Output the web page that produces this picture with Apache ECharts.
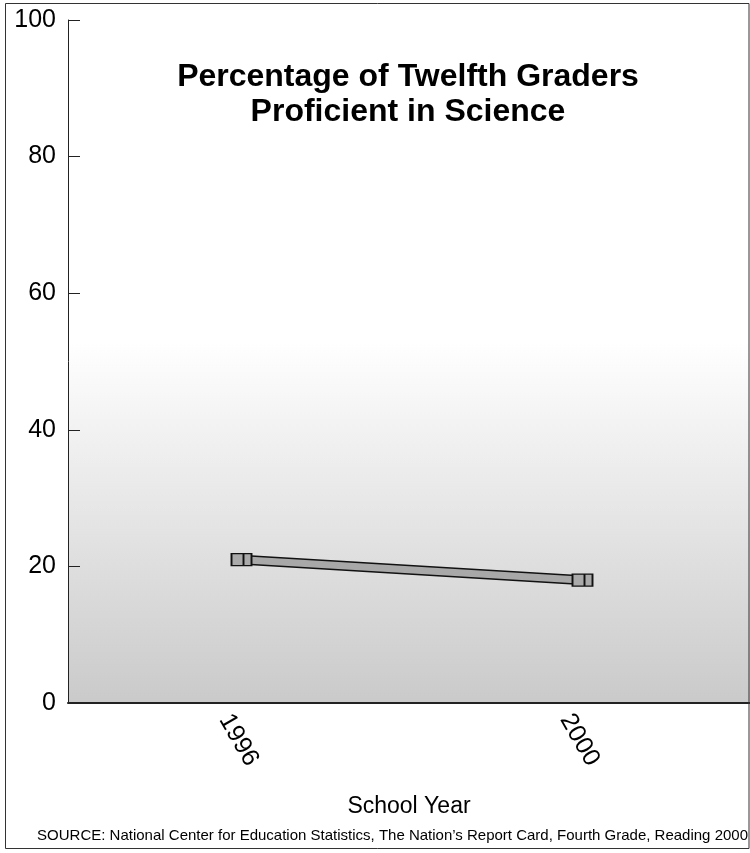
<!DOCTYPE html>
<html>
<head>
<meta charset="utf-8">
<script src="https://cdn.jsdelivr.net/npm/echarts@6/dist/echarts.min.js"></script>
<style>
  html, body { margin: 0; padding: 0; background: #fff; }
  #chart { width: 750px; height: 853px; }
</style>
</head>
<body>
<div id="chart"></div>
<script>
// School years on the horizontal axis
const years = ['1996', '2000'];
// Percent of twelfth graders at or above Proficient
const proficient = [21, 18];
// Vertical axis range
const yMin = 0, yMax = 100, yStep = 20;

const chart = echarts.init(document.getElementById('chart'));
const font = 'Liberation Sans, Arial, sans-serif';

chart.setOption({
  animation: false,
  backgroundColor: '#fff',
  grid: {
    left: 68, right: 0, top: 20, bottom: 150,
    show: true,
    borderWidth: 0,
    backgroundColor: {
      type: 'linear', x: 0, y: 0, x2: 0, y2: 1,
      colorStops: [
        { offset: 0, color: '#ffffff' },
        { offset: 0.47, color: '#ffffff' },
        { offset: 1, color: '#cacaca' }
      ]
    }
  },
  title: {
    text: 'Percentage of Twelfth Graders\nProficient in Science',
    left: 403, top: 55, textAlign: 'center',
    textStyle: { fontFamily: font, fontSize: 32, fontWeight: 'bold', color: '#000', lineHeight: 35 }
  },
  xAxis: {
    type: 'category',
    data: years,
    boundaryGap: true,
    name: 'School Year',
    nameLocation: 'middle',
    nameGap: 92,
    nameTextStyle: { fontFamily: font, fontSize: 23, color: '#000' },
    axisLine: { lineStyle: { color: '#222', width: 2 } },
    axisTick: { show: false },
    axisLabel: {
      rotate: -60, align: 'center', verticalAlign: 'middle',
      fontFamily: font, fontSize: 25, color: '#000', margin: 37
    }
  },
  yAxis: {
    type: 'value',
    min: yMin, max: yMax, interval: yStep,
    axisLine: { show: true, lineStyle: { color: '#222', width: 1 } },
    axisTick: { show: true, inside: true, length: 12, lineStyle: { color: '#222' } },
    splitLine: { show: false },
    axisLabel: { fontFamily: font, fontSize: 25, color: '#000', margin: 12 }
  },
  series: [
    {
      // dark outline under the ribbon
      type: 'line',
      data: proficient,
      symbol: 'none',
      lineStyle: { color: '#111', width: 10 },
      z: 2, silent: true
    },
    {
      type: 'line',
      data: proficient,
      symbol: 'path://M0,0H20V12H0Z M12,0V12',
      symbolSize: [20, 12],
      symbolOffset: [3, 0],
      itemStyle: { color: '#aaaaaa', borderColor: '#111', borderWidth: 1.5 },
      lineStyle: { color: '#a8a8a8', width: 7 },
      z: 3
    }
  ],
  graphic: [
    {
      type: 'rect',
      shape: { x: 5.5, y: 3.5, width: 743.5, height: 845 },
      style: { fill: 'none', stroke: '#333', lineWidth: 1 },
      silent: true, z: 10
    },
    {
      type: 'text',
      right: 2, top: 828,
      style: {
        text: 'SOURCE: National Center for Education Statistics, The Nation\u2019s Report Card, Fourth Grade, Reading 2000',
        font: '15px Liberation Sans, Arial, sans-serif',
        fill: '#000'
      }
    }
  ]
});
</script>
</body>
</html>
